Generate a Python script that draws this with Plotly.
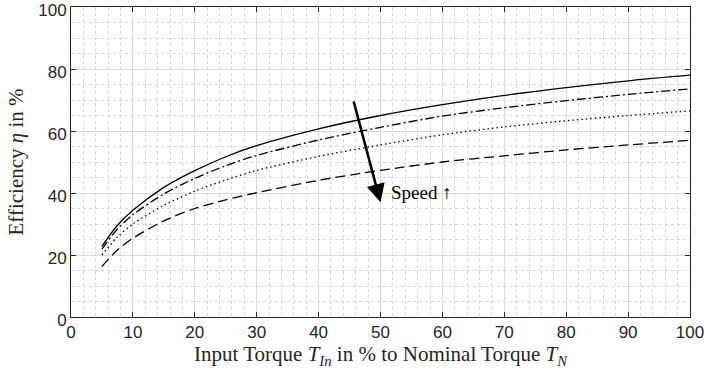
import plotly.graph_objects as go

torque = [5, 7.5, 10, 15, 20, 25, 30, 40, 50, 60, 70, 80, 90, 100]
eff_solid = [22.8, 29.6, 34.4, 41.8, 47.2, 51.7, 55.3, 60.7, 65.0, 68.5, 71.5, 74.0, 76.2, 78.0]
eff_dashdot = [21.9, 28.4, 33.0, 39.7, 44.7, 48.8, 52.1, 57.1, 61.2, 64.8, 67.5, 69.8, 71.8, 73.6]
eff_dotted = [20.0, 25.8, 30.0, 36.0, 40.6, 44.2, 47.3, 51.8, 55.5, 58.8, 61.3, 63.3, 65.0, 66.5]
eff_dashed = [16.3, 21.6, 25.4, 31.0, 35.0, 37.8, 40.1, 44.1, 47.3, 50.0, 52.0, 53.9, 55.5, 57.0]

arrow_start = (45.6, 70.0)
arrow_end = (50.0, 37.0)
arrow_text = "Speed ↑"

series = [
    (eff_solid, "solid"),
    (eff_dashdot, "9px,3px,2px,3px"),
    (eff_dotted, "1.5px,3px"),
    (eff_dashed, "10px,5px"),
]

fig = go.Figure()
for ys, dash in series:
    fig.add_trace(go.Scatter(
        x=torque, y=ys, mode="lines",
        line=dict(color="black", width=1.3, dash=dash, shape="spline", smoothing=0.8),
        showlegend=False, hoverinfo="skip"))

fig.add_annotation(
    x=arrow_end[0], y=arrow_end[1], ax=arrow_start[0], ay=arrow_start[1],
    xref="x", yref="y", axref="x", ayref="y",
    showarrow=True, arrowhead=2, arrowsize=1.4, arrowwidth=2.6, arrowcolor="black", text="")
fig.add_annotation(
    x=51.4, y=40.2, xref="x", yref="y", text=arrow_text, showarrow=False,
    xanchor="left", yanchor="middle",
    font=dict(family="Liberation Serif", size=19, color="black"))

tickfont = dict(family="Liberation Sans, Arial", size=17, color="#262626")
titlefont = dict(family="Liberation Serif, Times New Roman", size=21, color="#262626")

common = dict(
    showline=True, linecolor="#262626", linewidth=1, mirror="ticks",
    ticks="inside", ticklen=5, tickcolor="#262626", tickwidth=1,
    showgrid=True, gridcolor="#dadada", gridwidth=1,
    zeroline=False, tickfont=tickfont, automargin=False,
    ticklabeloverflow="allow",
)

fig.update_xaxes(
    range=[0, 100], tickvals=list(range(0, 101, 10)),
    minor=dict(dtick=2, showgrid=True, gridcolor="#d8d8d8", griddash="dot", gridwidth=1),
    title=dict(text="Input Torque <i>T</i><sub><i>In</i></sub> in % to Nominal Torque <i>T</i><sub><i>N</i></sub>",
               font=titlefont, standoff=4),
    **common)
fig.update_yaxes(
    range=[0, 100], tickvals=list(range(0, 101, 20)), ticklabelshift=3,
    minor=dict(dtick=5, showgrid=True, gridcolor="#d8d8d8", griddash="dot", gridwidth=1),
    title=dict(text="Efficiency <i>η</i> in %", font=titlefont, standoff=8),
    **common)

fig.update_layout(
    width=706, height=374,
    margin=dict(l=71, r=16, t=7, b=57),
    plot_bgcolor="white", paper_bgcolor="white",
)

fig.write_html("out.html", config={"displayModeBar": False},
               post_script="document.body.style.margin='0';document.body.style.overflow='hidden';")
